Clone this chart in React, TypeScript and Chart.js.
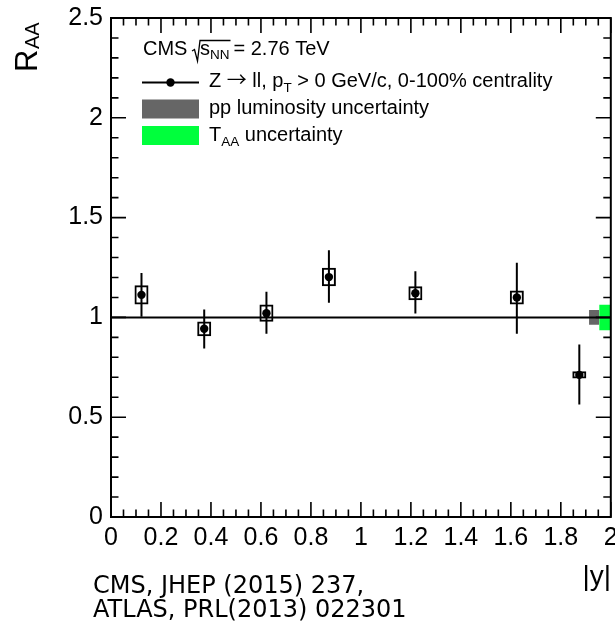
import React, { useEffect, useRef } from "react";
import { Chart, registerables } from "chart.js";

Chart.register(...registerables);

// ---- data ----
const rapidity = [0.122, 0.373, 0.622, 0.872, 1.218, 1.624, 1.874];
const raa = [1.113, 0.943, 1.021, 1.202, 1.121, 1.1, 0.712];
const statLow = [1.003, 0.844, 0.918, 1.073, 1.02, 0.918, 0.564];
const statHigh = [1.223, 1.04, 1.128, 1.337, 1.231, 1.274, 0.864];
const systLow = [1.065, 0.906, 0.978, 1.156, 1.086, 1.065, 0.694];
const systHigh = [1.161, 0.979, 1.065, 1.249, 1.156, 1.135, 0.73];

const unityX = [0, 2];
const unityY = 1;
const lumiX = 1.933;
const lumiUnc = 0.037;
const taaX = 1.977;
const taaUnc = 0.064;

const xTickValues = [0, 0.2, 0.4, 0.6, 0.8, 1, 1.2, 1.4, 1.6, 1.8, 2];
const xTickLabels = ["0", "0.2", "0.4", "0.6", "0.8", "1", "1.2", "1.4", "1.6", "1.8", "2"];
const yTickValues = [0, 0.5, 1, 1.5, 2, 2.5];
const yTickLabels = ["0", "0.5", "1", "1.5", "2", "2.5"];

const SANS = '"Liberation Sans", Arial, Helvetica, sans-serif';
const ARROW_FONT = '"Noto Sans CJK JP", "DejaVu Sans", sans-serif';

const decorPlugin = {
  id: "decor",
  afterDatasetsDraw(chart: any) {
    const { ctx, chartArea: a, scales } = chart;
    const xs = scales.x;
    const ys = scales.y;
    ctx.save();
    ctx.strokeStyle = "#000";
    ctx.lineWidth = 1.6;
    ctx.beginPath();
    const MAJ = 15;
    const MIN = 7.5;
    for (let i = 0; i <= 40; i++) {
      const px = xs.getPixelForValue(i * 0.05);
      const len = i % 4 === 0 ? MAJ : MIN;
      ctx.moveTo(px, a.bottom);
      ctx.lineTo(px, a.bottom - len);
      ctx.moveTo(px, a.top);
      ctx.lineTo(px, a.top + len);
    }
    for (let i = 0; i <= 25; i++) {
      const py = ys.getPixelForValue(i * 0.1);
      const len = i % 5 === 0 ? MAJ : MIN;
      ctx.moveTo(a.left, py);
      ctx.lineTo(a.left + len, py);
      ctx.moveTo(a.right, py);
      ctx.lineTo(a.right - len, py);
    }
    ctx.stroke();
    ctx.lineWidth = 2;
    ctx.strokeRect(a.left, a.top, a.right - a.left, a.bottom - a.top);
    ctx.restore();
  },
  afterDraw(chart: any) {
    const { ctx } = chart;
    ctx.save();
    ctx.fillStyle = "#000";
    ctx.textBaseline = "alphabetic";
    ctx.textAlign = "left";

    const run = (x: number, y: number, parts: { t: string; s: number; dy?: number; f?: string }[]) => {
      let cx = x;
      for (const p of parts) {
        ctx.font = `${p.s}px ${p.f || SANS}`;
        ctx.fillText(p.t, cx, y + (p.dy || 0));
        cx += ctx.measureText(p.t).width;
      }
      return cx;
    };

    // Legend line 1: CMS sqrt(s_NN) = 2.76 TeV
    let cx = run(143, 55, [{ t: "CMS ", s: 20 }]);
    const sqrtStart = cx - 1;
    const afterS = run(sqrtStart + 8, 55, [{ t: "s", s: 20 }, { t: "NN", s: 13.5, dy: 4 }]);
    ctx.beginPath();
    ctx.lineWidth = 1.3;
    ctx.strokeStyle = "#000";
    ctx.moveTo(sqrtStart, 51);
    ctx.lineTo(sqrtStart + 2.5, 49.5);
    ctx.lineTo(sqrtStart + 5.5, 61);
    ctx.lineTo(sqrtStart + 8, 40.5);
    ctx.lineTo(afterS + 1, 40.5);
    ctx.stroke();
    run(afterS + 4, 55, [{ t: "= 2.76 TeV", s: 20 }]);

    // Legend line 2: marker symbol
    ctx.beginPath();
    ctx.lineWidth = 2;
    ctx.moveTo(142, 82.5);
    ctx.lineTo(199, 82.5);
    ctx.stroke();
    ctx.beginPath();
    ctx.arc(170.5, 82.5, 4.2, 0, Math.PI * 2);
    ctx.fill();
    run(209, 87, [
      { t: "Z ", s: 20 },
      { t: "\u2192", s: 20, f: ARROW_FONT },
      { t: " ll, p", s: 20 },
      { t: "T", s: 13.5, dy: 5 },
      { t: " > 0 GeV/c, 0-100% centrality", s: 20 },
    ]);

    // Legend line 3: pp luminosity
    ctx.fillStyle = "#666666";
    ctx.fillRect(142, 99.5, 57, 19);
    ctx.fillStyle = "#000";
    run(209, 114, [{ t: "pp luminosity uncertainty", s: 20 }]);

    // Legend line 4: TAA
    ctx.fillStyle = "#00ff3c";
    ctx.fillRect(142, 126, 57, 19);
    ctx.fillStyle = "#000";
    run(209, 140.5, [
      { t: "T", s: 20 },
      { t: "AA", s: 13.5, dy: 5 },
      { t: " uncertainty", s: 20 },
    ]);

    // Y axis title R_AA (rotated)
    ctx.save();
    ctx.translate(37, 72);
    ctx.rotate(-Math.PI / 2);
    ctx.font = `31px ${SANS}`;
    ctx.fillText("R", 0, 0);
    const rw = ctx.measureText("R").width;
    ctx.font = `20px ${SANS}`;
    ctx.fillText("AA", rw + 0.5, 2);
    ctx.restore();

    // X axis title |y|
    ctx.font = `28px ${SANS}`;
    ctx.textAlign = "right";
    ctx.fillText("|y|", 611, 585);

    // Citation
    ctx.textAlign = "left";
    ctx.font = `24px "DejaVu Sans", Verdana, sans-serif`;
    ctx.fillText("CMS, JHEP (2015) 237,", 93, 593);
    ctx.fillText("ATLAS, PRL(2013) 022301", 93, 617);
    ctx.restore();
  },
};

export default function App() {
  const ref = useRef<HTMLCanvasElement | null>(null);

  useEffect(() => {
    if (!ref.current) return;
    const chart = new Chart(ref.current, {
      type: "scatter",
      data: {
        datasets: [
          {
            type: "scatter",
            data: rapidity.map((x, i) => ({ x, y: raa[i] })),
            pointRadius: 4.2,
            pointBackgroundColor: "#000",
            pointBorderWidth: 0,
            order: 0,
          } as any,
          {
            type: "line",
            data: unityX.map((x) => ({ x, y: unityY })),
            borderColor: "#000",
            borderWidth: 2,
            pointRadius: 0,
            order: 1,
          } as any,
          {
            type: "bar",
            data: rapidity.map((x, i) => ({ x, y: [statLow[i], statHigh[i]] })),
            barThickness: 2,
            backgroundColor: "#000",
            borderWidth: 0,
            grouped: false,
            inflateAmount: 0,
            order: 2,
          } as any,
          {
            type: "bar",
            data: rapidity.map((x, i) => ({ x, y: [systLow[i], systHigh[i]] })),
            barThickness: 14,
            backgroundColor: "rgba(255,255,255,0)",
            borderColor: "#000",
            borderWidth: 2,
            borderSkipped: false,
            grouped: false,
            inflateAmount: 0,
            order: 3,
          } as any,
          {
            type: "bar",
            data: [{ x: lumiX, y: [unityY - lumiUnc, unityY + lumiUnc] }],
            barThickness: 10,
            backgroundColor: "#666666",
            borderWidth: 0,
            grouped: false,
            inflateAmount: 0,
            order: 4,
          } as any,
          {
            type: "bar",
            data: [{ x: taaX, y: [unityY - taaUnc, unityY + taaUnc] }],
            barThickness: 11.5,
            backgroundColor: "#00ff3c",
            borderWidth: 0,
            grouped: false,
            inflateAmount: 0,
            order: 5,
          } as any,
        ],
      },
      options: {
        animation: false,
        responsive: false,
        maintainAspectRatio: false,
        events: [],
        layout: { padding: { top: 18, right: 3, left: 0, bottom: 0 } },
        plugins: {
          legend: { display: false },
          tooltip: { enabled: false },
          title: { display: false },
        },
        scales: {
          x: {
            type: "linear",
            min: 0,
            max: 2,
            offset: false,
            grid: { display: false, drawTicks: false },
            border: { display: false },
            afterBuildTicks: (s: any) => {
              s.ticks = xTickValues.map((v) => ({ value: v }));
            },
            afterFit: (s: any) => {
              s.height = 108;
              s.paddingLeft = 0;
              s.paddingRight = 0;
            },
            ticks: {
              autoSkip: false,
              maxRotation: 0,
              minRotation: 0,
              padding: 6,
              color: "#000",
              font: { family: SANS, size: 25 },
              callback: (_v: any, i: number) => xTickLabels[i],
            },
          },
          y: {
            type: "linear",
            min: 0,
            max: 2.5,
            grid: { display: false, drawTicks: false },
            border: { display: false },
            afterBuildTicks: (s: any) => {
              s.ticks = yTickValues.map((v) => ({ value: v }));
            },
            afterFit: (s: any) => {
              s.width = 111;
              s.paddingTop = 0;
              s.paddingBottom = 0;
            },
            ticks: {
              padding: 8,
              color: "#000",
              font: { family: SANS, size: 25 },
              callback: (_v: any, i: number) => yTickLabels[i],
            },
          },
        },
      } as any,
      plugins: [decorPlugin],
    });
    return () => chart.destroy();
  }, []);

  return (
    <div style={{ position: "absolute", left: 0, top: 0, width: 615, height: 625, background: "#fff" }}>
      <canvas ref={ref} width={615} height={625} style={{ display: "block" }} />
    </div>
  );
}
